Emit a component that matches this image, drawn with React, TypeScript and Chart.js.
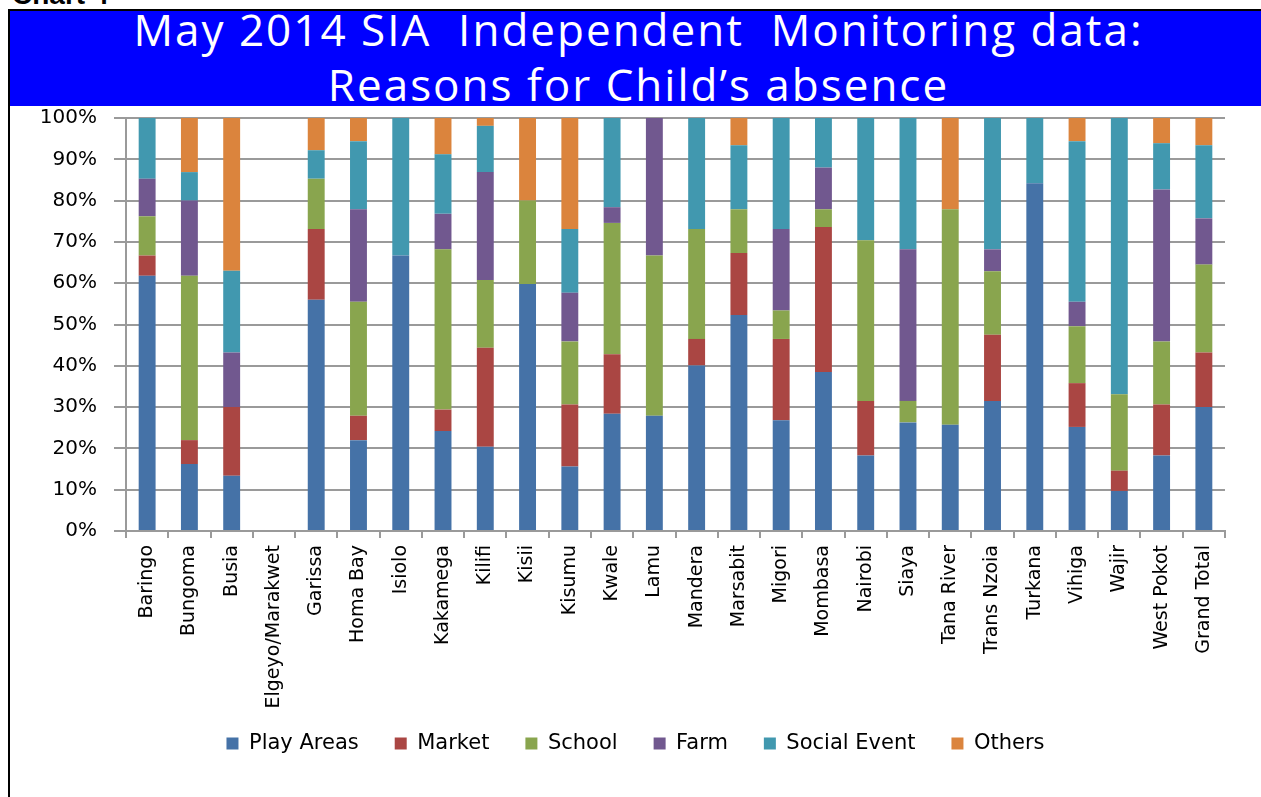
import React, { useEffect, useRef } from "react";
import { Chart, registerables } from "chart.js";

Chart.register(...registerables);

const categories = [
  "Baringo", "Bungoma", "Busia", "Elgeyo/Marakwet", "Garissa", "Homa Bay", "Isiolo",
  "Kakamega", "Kilifi", "Kisii", "Kisumu", "Kwale", "Lamu", "Mandera", "Marsabit",
  "Migori", "Mombasa", "Nairobi", "Siaya", "Tana River", "Trans Nzoia", "Turkana",
  "Vihiga", "Wajir", "West Pokot", "Grand Total",
];

const playAreas = [61.8, 16.2, 13.4, 0, 56, 22, 66.7, 24.2, 20.4, 59.8, 15.6, 28.4, 27.9, 40.1, 52.3, 26.8, 38.5, 18.3, 26.3, 25.7, 31.5, 84.2, 25.2, 9.7, 18.3, 30];
const market = [4.9, 5.8, 16.6, 0, 17.1, 5.9, 0, 5.2, 24, 0, 15, 14.4, 0, 6.4, 15, 19.7, 35.1, 13.2, 0, 0, 16, 0, 10.6, 4.9, 12.3, 13.2];
const school = [9.5, 39.8, 0, 0, 12.2, 27.6, 0, 38.8, 16.4, 20.2, 15.3, 31.8, 38.8, 26.6, 10.6, 6.9, 4.3, 38.9, 5.2, 52.2, 15.4, 0, 13.8, 18.5, 15.3, 21.3];
const farm = [9.1, 18.2, 13.2, 0, 0, 22.4, 0, 8.6, 26.1, 0, 11.8, 3.8, 33.3, 0, 0, 19.7, 10.1, 0, 36.7, 0, 5.3, 0, 5.9, 0, 36.8, 11.2];
const socialEvent = [14.7, 6.9, 19.8, 0, 6.9, 16.5, 33.3, 14.4, 11.2, 0, 15.4, 21.6, 0, 26.9, 15.5, 26.9, 12, 29.6, 31.8, 0, 31.8, 15.8, 38.9, 66.9, 11.2, 17.7];
const others = [0, 13.1, 37, 0, 7.8, 5.6, 0, 8.8, 1.9, 20, 26.9, 0, 0, 0, 6.6, 0, 0, 0, 0, 22.1, 0, 0, 5.6, 0, 6.1, 6.6];

const seriesNames = ["Play Areas", "Market", "School", "Farm", "Social Event", "Others"];
const seriesColors = ["#4572A7", "#AA4643", "#89A54E", "#71588F", "#4198AF", "#DB843D"];
const yTickLabels = ["0%", "10%", "20%", "30%", "40%", "50%", "60%", "70%", "80%", "90%", "100%"];

const titleLine1 = "May 2014 SIA  Independent  Monitoring data:";
const titleLine2 = "Reasons for Child\u2019s absence";

const FONT = "'DejaVu Sans', sans-serif";
const GRID = "#9a9a9a";

const unclipXLabels = {
  id: "unclipXLabels",
  afterLayout(chart: any) {
    const x = chart.scales.x;
    if (x) x.bottom = chart.height;
  },
};

export default function App() {
  const canvasRef = useRef<HTMLCanvasElement | null>(null);

  useEffect(() => {
    const canvas = canvasRef.current;
    if (!canvas) return;
    const values = [playAreas, market, school, farm, socialEvent, others];
    const chart = new Chart(canvas, {
      type: "bar",
      data: {
        labels: categories,
        datasets: seriesNames.map((name, i) => ({
          label: name,
          data: values[i],
          backgroundColor: seriesColors[i],
          borderWidth: 0,
          categoryPercentage: 0.4,
          barPercentage: 1.0,
        })),
      },
      plugins: [unclipXLabels],
      options: {
        responsive: false,
        animation: false,
        devicePixelRatio: 1,
        layout: { padding: { left: 0, right: 0, top: 11, bottom: 33 } },
        plugins: {
          title: { display: false },
          tooltip: { enabled: false },
          legend: {
            position: "bottom",
            labels: {
              boxWidth: 12,
              boxHeight: 12,
              padding: 36,
              color: "#000",
              font: { family: FONT, size: 21 },
            },
          },
        },
        scales: {
          x: {
            stacked: true,
            grid: {
              display: true,
              drawOnChartArea: false,
              drawTicks: true,
              tickLength: 7,
              color: GRID,
              lineWidth: 2,
              offset: true,
            },
            border: { display: true, color: GRID, width: 2 },
            ticks: {
              autoSkip: false,
              minRotation: 90,
              maxRotation: 90,
              padding: 7,
              color: "#000",
              font: { family: FONT, size: 19 },
            },
            afterFit: (s: any) => {
              s.height = 166;
              s.paddingLeft = 0;
              s.paddingRight = 0;
            },
          },
          y: {
            stacked: true,
            min: 0,
            max: 100,
            ticks: {
              stepSize: 10,
              padding: 17,
              color: "#000",
              font: { family: FONT, size: 20 },
              callback: (_v: any, i: number) => yTickLabels[i],
            },
            grid: { color: GRID, lineWidth: 2, tickLength: 12 },
            border: { display: true, color: GRID, width: 2 },
            afterFit: (s: any) => {
              s.width = 116;
              s.paddingTop = 0;
              s.paddingBottom = 0;
            },
          },
          yRight: {
            position: "right",
            display: true,
            grid: { display: false, drawTicks: false },
            border: { display: false },
            ticks: { display: false },
            afterFit: (s: any) => {
              s.width = 36;
              s.paddingTop = 0;
              s.paddingBottom = 0;
            },
          },
        },
      },
    });
    return () => chart.destroy();
  }, []);

  return (
    <div
      style={{
        position: "absolute",
        left: 0,
        top: 0,
        width: 1261,
        height: 797,
        overflow: "hidden",
        background: "#fff",
      }}
    >
      <div
        style={{
          position: "absolute",
          left: 12,
          top: -19,
          font: "bold 28px 'Liberation Sans', Arial, sans-serif",
          lineHeight: "28px",
          color: "#000",
          whiteSpace: "nowrap",
        }}
      >
        Chart 4
      </div>
      <div style={{ position: "absolute", left: 8, top: 9, width: 1253, height: 2, background: "#000" }} />
      <div style={{ position: "absolute", left: 8, top: 9, width: 2, height: 788, background: "#000" }} />
      <div style={{ position: "absolute", left: 10, top: 11, width: 1251, height: 95, background: "#0000FF" }} />
      <div
        style={{
          position: "absolute",
          left: 10,
          width: 1251,
          top: 2,
          textAlign: "center",
          color: "#fff",
          font: "44px 'Open Sans', sans-serif",
          lineHeight: "55px",
          letterSpacing: "2px",
          whiteSpace: "pre",
        }}
      >
        <div style={{ paddingLeft: 6 }}>{titleLine1}</div>
        <div style={{ paddingLeft: 6 }}>{titleLine2}</div>
      </div>
      <canvas
        ref={canvasRef}
        width={1251}
        height={690}
        style={{ position: "absolute", left: 10, top: 107, width: 1251, height: 690 }}
      />
    </div>
  );
}
